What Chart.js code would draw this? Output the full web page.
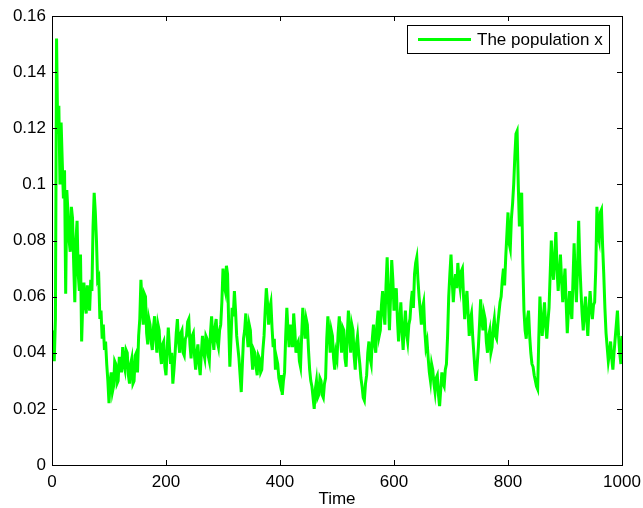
<!DOCTYPE html>
<html>
<head>
<meta charset="utf-8">
<script src="https://cdn.jsdelivr.net/npm/chart.js@4.4.1/dist/chart.umd.min.js"></script>
<style>
  body { margin: 0; background: #fff; }
</style>
</head>
<body>
<canvas id="popChart" width="643" height="508"></canvas>
<script>
const timeStep = 2;
const population = [
  0.048, 0.040, 0.037, 0.052, 0.152, 0.118, 0.128, 0.100, 0.122, 0.108,
  0.095, 0.105, 0.061, 0.098, 0.090, 0.080, 0.076, 0.092, 0.088, 0.072,
  0.058, 0.080, 0.087, 0.068, 0.062, 0.075, 0.044, 0.058, 0.065, 0.057,
  0.054, 0.064, 0.058, 0.055, 0.066, 0.062, 0.085, 0.097, 0.090, 0.080,
  0.066, 0.067, 0.052, 0.055, 0.045, 0.050, 0.041, 0.044, 0.036, 0.030,
  0.022, 0.030, 0.033, 0.026, 0.028, 0.037, 0.036, 0.029, 0.030, 0.038,
  0.038, 0.033, 0.042, 0.036, 0.034, 0.041, 0.040, 0.032, 0.029, 0.036,
  0.038, 0.029, 0.030, 0.039, 0.040, 0.033, 0.046, 0.052, 0.066, 0.058,
  0.050, 0.061, 0.060, 0.047, 0.043, 0.052, 0.050, 0.044, 0.041, 0.049,
  0.053, 0.045, 0.040, 0.050, 0.048, 0.040, 0.036, 0.043, 0.044, 0.035,
  0.032, 0.041, 0.049, 0.042, 0.036, 0.040, 0.029, 0.034, 0.040, 0.047,
  0.052, 0.044, 0.040, 0.047, 0.048, 0.040, 0.039, 0.045, 0.046, 0.051,
  0.052, 0.043, 0.038, 0.046, 0.047, 0.039, 0.034, 0.040, 0.043, 0.036,
  0.032, 0.040, 0.046, 0.040, 0.038, 0.046, 0.045, 0.039, 0.037, 0.047,
  0.053, 0.045, 0.041, 0.049, 0.052, 0.044, 0.042, 0.048, 0.050, 0.058,
  0.070, 0.064, 0.062, 0.071, 0.068, 0.050, 0.035, 0.045, 0.056, 0.053,
  0.062, 0.055, 0.046, 0.042, 0.038, 0.032, 0.026, 0.036, 0.045, 0.048,
  0.054, 0.047, 0.042, 0.050, 0.048, 0.040, 0.034, 0.041, 0.040, 0.035,
  0.032, 0.039, 0.038, 0.033, 0.034, 0.041, 0.046, 0.055, 0.063, 0.058,
  0.050, 0.056, 0.058, 0.049, 0.042, 0.045, 0.034, 0.038, 0.036, 0.031,
  0.029, 0.032, 0.025, 0.030, 0.033, 0.046, 0.056, 0.048, 0.042, 0.050,
  0.047, 0.042, 0.054, 0.048, 0.040, 0.043, 0.044, 0.037, 0.035, 0.046,
  0.056, 0.050, 0.045, 0.052, 0.050, 0.041, 0.034, 0.030, 0.028, 0.024,
  0.020, 0.027, 0.030, 0.024, 0.025, 0.031, 0.030, 0.025, 0.024, 0.029,
  0.031, 0.045, 0.053, 0.047, 0.040, 0.048, 0.046, 0.038, 0.034, 0.040,
  0.038, 0.047, 0.053, 0.046, 0.040, 0.049, 0.048, 0.038, 0.035, 0.046,
  0.055, 0.046, 0.040, 0.050, 0.048, 0.039, 0.034, 0.043, 0.046, 0.040,
  0.036, 0.031, 0.028, 0.024, 0.023, 0.029, 0.032, 0.040, 0.044, 0.038,
  0.036, 0.045, 0.050, 0.043, 0.040, 0.050, 0.055, 0.046, 0.048, 0.057,
  0.062, 0.054, 0.050, 0.064, 0.074, 0.060, 0.048, 0.060, 0.073, 0.066,
  0.055, 0.060, 0.063, 0.052, 0.044, 0.051, 0.058, 0.048, 0.041, 0.049,
  0.055, 0.047, 0.044, 0.050, 0.052, 0.058, 0.062, 0.056, 0.068, 0.072,
  0.074, 0.066, 0.060, 0.055, 0.050, 0.056, 0.058, 0.048, 0.042, 0.044,
  0.038, 0.033, 0.030, 0.036, 0.034, 0.029, 0.026, 0.031, 0.032, 0.025,
  0.021, 0.027, 0.033, 0.029, 0.028, 0.034, 0.036, 0.046, 0.060, 0.068,
  0.075, 0.066, 0.058, 0.064, 0.068, 0.063, 0.072, 0.066, 0.063, 0.069,
  0.070, 0.060, 0.052, 0.058, 0.062, 0.054, 0.046, 0.052, 0.054, 0.046,
  0.040, 0.034, 0.030, 0.036, 0.042, 0.050, 0.059, 0.052, 0.048, 0.054,
  0.052, 0.044, 0.040, 0.046, 0.048, 0.040, 0.042, 0.049, 0.052, 0.046,
  0.045, 0.050, 0.054, 0.058, 0.060, 0.066, 0.070, 0.064, 0.074, 0.082,
  0.090, 0.079, 0.077, 0.088, 0.093, 0.100, 0.110, 0.118, 0.119, 0.100,
  0.085, 0.094, 0.097, 0.072, 0.055, 0.048, 0.045, 0.052, 0.055, 0.046,
  0.040, 0.036, 0.035, 0.032, 0.030, 0.028, 0.027, 0.045, 0.060, 0.052,
  0.046, 0.052, 0.058, 0.050, 0.045, 0.051, 0.056, 0.068, 0.080, 0.070,
  0.066, 0.075, 0.083, 0.070, 0.062, 0.068, 0.075, 0.066, 0.058, 0.064,
  0.070, 0.058, 0.047, 0.055, 0.062, 0.056, 0.052, 0.066, 0.079, 0.066,
  0.058, 0.070, 0.087, 0.072, 0.062, 0.054, 0.048, 0.055, 0.060, 0.052,
  0.046, 0.055, 0.062, 0.056, 0.052, 0.057, 0.058, 0.070, 0.092, 0.082,
  0.080, 0.090, 0.091, 0.078, 0.068, 0.056, 0.047, 0.042, 0.037, 0.040,
  0.044, 0.038, 0.034, 0.040, 0.045, 0.050, 0.055, 0.046, 0.040, 0.036,
  0.046
];
const xTicks = [0, 200, 400, 600, 800, 1000];
const yTicks = [0, 0.02, 0.04, 0.06, 0.08, 0.1, 0.12, 0.14, 0.16];

const points = population.map((v, i) => ({ x: i * timeStep, y: v }));
const fontFamily = '"Liberation Sans", Arial, sans-serif';

// MATLAB-like box with inward ticks on all four sides, plus boxed legend
const matlabFrame = {
  id: 'matlabFrame',
  afterDraw(chart) {
    const { ctx, chartArea: a, scales } = chart;
    const len = 5;
    ctx.save();
    ctx.strokeStyle = '#000';
    ctx.lineWidth = 1;
    ctx.beginPath();
    xTicks.forEach(t => {
      const px = Math.round(scales.x.getPixelForValue(t)) + 0.5;
      ctx.moveTo(px, a.bottom); ctx.lineTo(px, a.bottom - len);
      ctx.moveTo(px, a.top); ctx.lineTo(px, a.top + len);
    });
    yTicks.forEach(t => {
      const py = Math.round(scales.y.getPixelForValue(t)) + 0.5;
      ctx.moveTo(a.left, py); ctx.lineTo(a.left + len, py);
      ctx.moveTo(a.right, py); ctx.lineTo(a.right - len, py);
    });
    ctx.stroke();
    ctx.strokeRect(Math.round(a.left) + 0.5, Math.round(a.top) + 0.5,
      Math.round(a.right - a.left), Math.round(a.bottom - a.top));

    // legend
    const ds = chart.data.datasets[0];
    const bx = 407.5, by = 25.5, bw = 202, bh = 28;
    ctx.fillStyle = '#fff';
    ctx.fillRect(bx, by, bw, bh);
    ctx.strokeRect(bx, by, bw, bh);
    ctx.strokeStyle = ds.borderColor;
    ctx.lineWidth = ds.borderWidth;
    ctx.beginPath();
    ctx.moveTo(418, by + bh / 2); ctx.lineTo(471, by + bh / 2);
    ctx.stroke();
    ctx.fillStyle = '#000';
    ctx.font = '17px ' + fontFamily;
    ctx.textBaseline = 'middle';
    ctx.fillText(ds.label, 477, by + bh / 2 + 1);
    ctx.restore();
  }
};

new Chart(document.getElementById('popChart'), {
  type: 'line',
  data: {
    datasets: [{
      label: 'The population x',
      data: points,
      borderColor: '#00ff00',
      borderWidth: 3,
      pointRadius: 0,
      tension: 0,
      fill: false
    }]
  },
  options: {
    responsive: false,
    animation: false,
    layout: { padding: { top: 16, right: 21, left: 0, bottom: 0 } },
    plugins: {
      legend: { display: false },
      tooltip: { enabled: false }
    },
    scales: {
      x: {
        type: 'linear',
        min: 0,
        max: 1000,
        afterFit: s => { s.height = 43; s.paddingLeft = 0; s.paddingRight = 0; },
        afterBuildTicks: s => { s.ticks = xTicks.map(v => ({ value: v })); },
        grid: { display: false, drawTicks: false },
        border: { display: false },
        ticks: {
          color: '#000',
          padding: 7,
          font: { family: fontFamily, size: 17 },
          maxRotation: 0,
          callback: v => String(v)
        },
        title: {
          display: true,
          text: 'Time',
          color: '#000',
          padding: { top: 0, bottom: -2 },
          font: { family: fontFamily, size: 17 }
        }
      },
      y: {
        min: 0,
        max: 0.16,
        afterFit: s => { s.width = 52; s.paddingTop = 0; s.paddingBottom = 0; },
        afterBuildTicks: s => { s.ticks = yTicks.map(v => ({ value: v })); },
        grid: { display: false, drawTicks: false },
        border: { display: false },
        ticks: {
          color: '#000',
          padding: 6,
          font: { family: fontFamily, size: 17 },
          callback: v => String(+v.toFixed(2))
        }
      }
    }
  },
  plugins: [matlabFrame]
});
</script>
</body>
</html>
